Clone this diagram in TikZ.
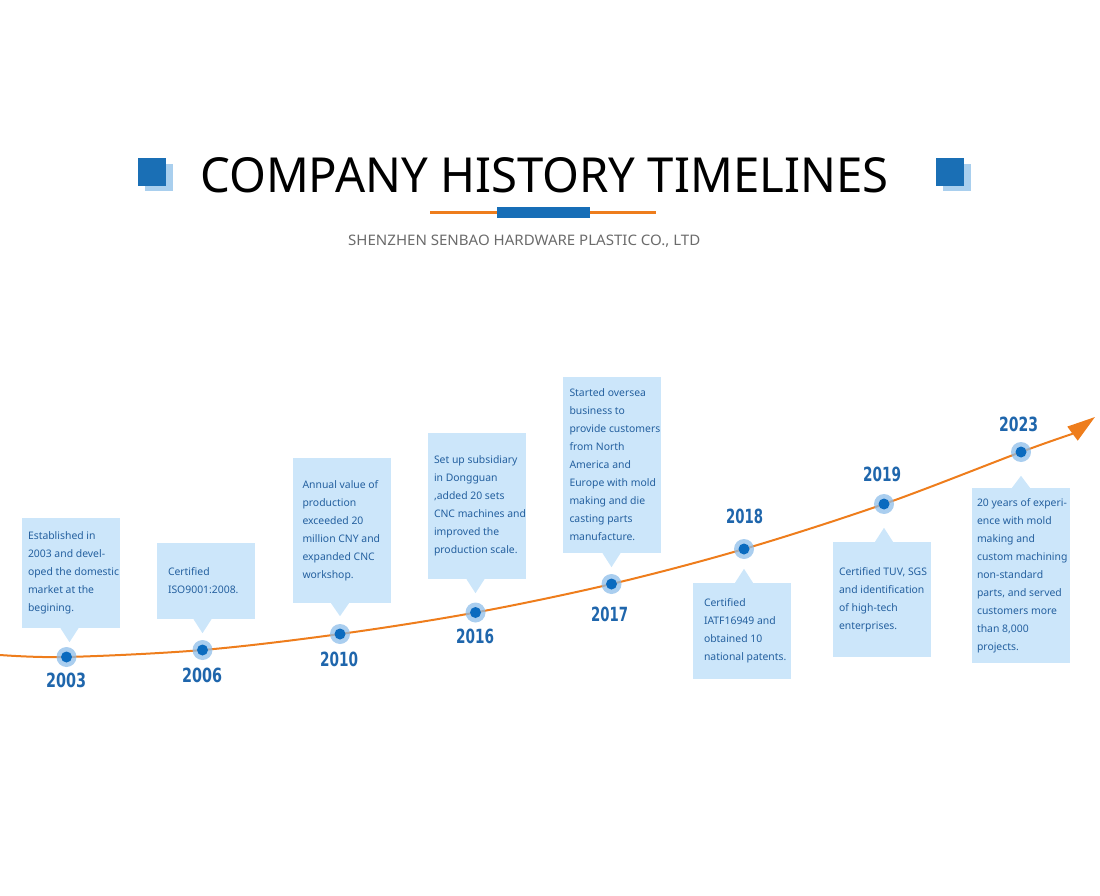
\documentclass[tikz,border=0pt]{standalone}
\usepackage{fontspec}
\setmainfont{Noto Sans}
\newfontfamily\yearfont{DejaVu Sans}[BoldFont={DejaVu Sans Bold}]
\usetikzlibrary{arrows.meta,calc}
\definecolor{sqdark}{HTML}{1A6FB5}
\definecolor{sqlight}{HTML}{A9CFEE}
\definecolor{boxfill}{HTML}{CCE6FA}
\definecolor{txtblue}{HTML}{24609F}
\definecolor{yearblue}{HTML}{1F66AC}
\definecolor{lineorange}{HTML}{EE7D1C}
\definecolor{dotblue}{HTML}{0B6BBF}
\definecolor{halocol}{HTML}{8DBDE9}
\definecolor{subgray}{HTML}{6B6B6B}
\begin{document}
\begin{tikzpicture}[x=1pt,y=-1pt,
  evbox/.style={fill=boxfill, minimum width=98pt, inner sep=0pt},
  evtext/.style={anchor=west, inner sep=0pt, align=left, text=txtblue, font=\fontsize{10.4}{18}\selectfont},
  halo/.style={circle, fill=halocol, fill opacity=0.75, minimum size=20pt, inner sep=0pt},
  dot/.style={circle, fill=dotblue, minimum size=11pt, inner sep=0pt},
  year/.style={inner sep=0pt, text=yearblue, font=\yearfont\bfseries},
  pointer/.style={fill=boxfill},
  timeline/.style={draw=lineorange, line width=2pt},
  sqd/.style={fill=sqdark},
  sql/.style={fill=sqlight},
]
\useasboundingbox (0,0) rectangle (1100,896);

% title decoration
\fill[sql] (145,164) rectangle (173,191);
\fill[sqd] (138,158) rectangle (166,186);
\fill[sql] (943,164) rectangle (971,191);
\fill[sqd] (936,158) rectangle (964,186);
\node[anchor=base west, inner sep=0pt] (title) at (200,193) {\resizebox{688pt}{35pt}{COMPANY HISTORY TIMELINES}};
\draw[lineorange, line width=2.7pt] (430,212.3) -- (656,212.3);
\fill[sqdark!80!dotblue] (497,207) rectangle (590,218);
\node[anchor=base west, inner sep=0pt, text=subgray] (sub) at (348,245.5) {\resizebox{352pt}{10.5pt}{SHENZHEN SENBAO HARDWARE PLASTIC CO., LTD}};

% timeline points
\coordinate (p0) at (0,655);
\coordinate (p1) at (66.5,657);
\coordinate (p2) at (202.5,650);
\coordinate (p3) at (340,634);
\coordinate (p4) at (475.5,612.5);
\coordinate (p5) at (611.5,584);
\coordinate (p6) at (744,549);
\coordinate (p7) at (884,504);
\coordinate (p8) at (1021,452);
\coordinate (pa) at (1072,434);
\coordinate (tip) at (1095,417);

% boxes
\node[evbox, minimum height=110pt] (b1) at (71,573) {};
\node[evbox, minimum height=76pt] (b2) at (206,581) {};
\node[evbox, minimum height=145pt] (b3) at (341.5,530.5) {};
\node[evbox, minimum height=146pt] (b4) at (477,506) {};
\node[evbox, minimum height=176pt] (b5) at (611.5,465) {};
\node[evbox, minimum height=96pt] (b6) at (742,631) {};
\node[evbox, minimum height=115pt] (b7) at (882,599.5) {};
\node[evbox, minimum height=175pt] (b8) at (1021,575.5) {};

\fill[pointer] ([xshift=3pt]b1.south -| p1) ++(-9,0) -- ++(18,0) -- ++(-9,14) -- cycle;
\fill[pointer] (b2.south -| p2) ++(-9,0) -- ++(18,0) -- ++(-9,14) -- cycle;
\fill[pointer] (b3.south -| p3) ++(-9,0) -- ++(18,0) -- ++(-9,13) -- cycle;
\fill[pointer] (b4.south -| p4) ++(-9,0) -- ++(18,0) -- ++(-9,14) -- cycle;
\fill[pointer] (b5.south -| p5) ++(-9,0) -- ++(18,0) -- ++(-9,14) -- cycle;
\fill[pointer] (b6.north -| p6) ++(-9,0) -- ++(18,0) -- ++(-9,-14) -- cycle;
\fill[pointer] (b7.north -| p7) ++(-9,0) -- ++(18,0) -- ++(-9,-14) -- cycle;
\fill[pointer] (b8.north -| p8) ++(-9,0) -- ++(18,0) -- ++(-9,-12) -- cycle;

% curve
\draw[timeline, -{Triangle[length=28pt,width=17pt]}] plot[smooth, tension=0.55] coordinates {(p0) (p1) (p2) (p3) (p4) (p5) (p6) (p7) (p8) (pa)} -- (tip);

% dots
\foreach \i in {1,...,8} {
  \node[halo] (h\i) at (p\i) {};
  \node[dot] (d\i) at (p\i) {};
}

% years
\node[year] (y1) at (66,680.5) {\resizebox{40pt}{14.5pt}{2003}};
\node[year] (y2) at (202,675.5) {\resizebox{40pt}{14.5pt}{2006}};
\node[year] (y3) at (339,659.5) {\resizebox{38pt}{14.5pt}{2010}};
\node[year] (y4) at (475,636.5) {\resizebox{38pt}{14.5pt}{2016}};
\node[year] (y5) at (609.5,614.5) {\resizebox{37pt}{14.5pt}{2017}};
\node[year] (y6) at (744.5,516) {\resizebox{37pt}{14.5pt}{2018}};
\node[year] (y7) at (882,474) {\resizebox{38pt}{14.5pt}{2019}};
\node[year] (y8) at (1018.5,424) {\resizebox{39pt}{14.5pt}{2023}};

% texts
\node[evtext] (t1) at ([xshift=6pt]b1.west) {Established in\\2003 and devel-\\oped the domestic\\market at the\\begining.};
\node[evtext] (t2) at ([xshift=11pt]b2.west) {Certified\\ISO9001:2008.};
\node[evtext] (t3) at ([xshift=10pt]b3.west) {Annual value of\\production\\exceeded 20\\million CNY and\\expanded CNC\\workshop.};
\node[evtext] (t4) at ([xshift=6pt]b4.west) {Set up subsidiary\\in Dongguan\\,added 20 sets\\CNC machines and\\improved the\\production scale.};
\node[evtext] (t5) at ([xshift=7pt]b5.west) {Started oversea\\business to\\provide customers\\from North\\America and\\Europe with mold\\making and die\\casting parts\\manufacture.};
\node[evtext] (t6) at ([xshift=11pt]b6.west) {Certified\\IATF16949 and\\obtained 10\\national patents.};
\node[evtext] (t7) at ([xshift=6pt]b7.west) {Certified TUV, SGS\\and identification\\of high-tech\\enterprises.};
\node[evtext] (t8) at ([xshift=5pt]b8.west) {20 years of experi-\\ence with mold\\making and\\custom machining\\non-standard\\parts, and served\\customers more\\than 8,000\\projects.};
\end{tikzpicture}
\end{document}
